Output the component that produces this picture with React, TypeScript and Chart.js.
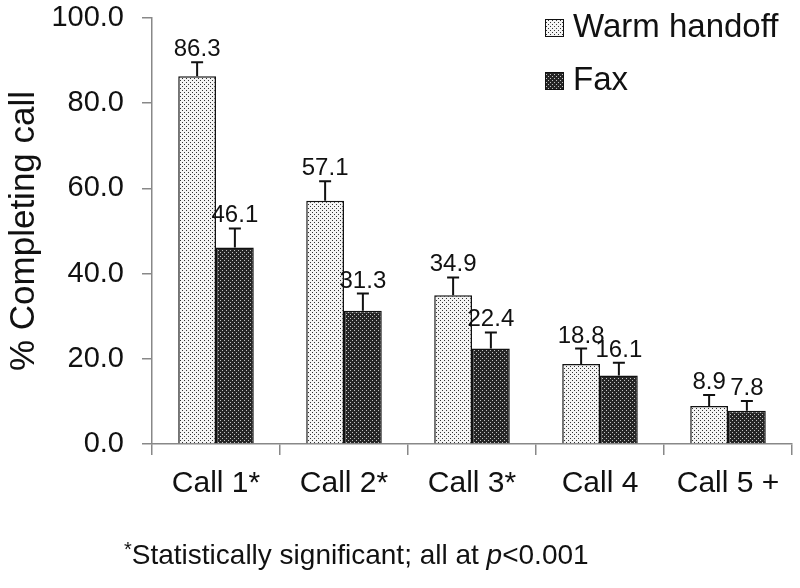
import React, { useEffect, useRef } from "react";
import { Chart, registerables } from "chart.js";

Chart.register(...registerables);

const categories = ["Call 1*", "Call 2*", "Call 3*", "Call 4", "Call 5 +"];
const warmValues = [86.3, 57.1, 34.9, 18.8, 8.9];
const faxValues = [46.1, 31.3, 22.4, 16.1, 7.8];
const warmErrors = [3.3, 4.6, 4.2, 3.6, 2.6];
const faxErrors = [4.5, 4.0, 3.8, 3.0, 2.3];
const seriesLabels = ["Warm handoff", "Fax"];
const yTicks = [0, 20, 40, 60, 80, 100];

const FONT = "'Liberation Sans', Arial, sans-serif";

function makePattern(ctx: CanvasRenderingContext2D, bg: string, dot: string) {
  const c = document.createElement("canvas");
  c.width = 4;
  c.height = 4;
  const p = c.getContext("2d")!;
  p.fillStyle = bg;
  p.fillRect(0, 0, 4, 4);
  p.fillStyle = dot;
  p.fillRect(0, 0, 1, 1);
  p.fillRect(2, 2, 1, 1);
  return ctx.createPattern(c, "repeat")!;
}

export default function App() {
  const ref = useRef<HTMLCanvasElement | null>(null);

  useEffect(() => {
    const canvas = ref.current!;
    const ctx = canvas.getContext("2d")!;
    const warmPat = makePattern(ctx, "#f4f4f4", "#333333");
    const faxPat = makePattern(ctx, "#262626", "#c4c4c4");
    const patterns = [warmPat, faxPat];
    const errors = [warmErrors, faxErrors];

    const overlay = {
      id: "overlay",
      afterDatasetsDraw(chart: any) {
        const c = chart.ctx;
        const y = chart.scales.y;
        c.save();
        chart.data.datasets.forEach((ds: any, di: number) => {
          const meta = chart.getDatasetMeta(di);
          meta.data.forEach((bar: any, i: number) => {
            const v = ds.data[i];
            const top = y.getPixelForValue(v + errors[di][i]);
            const base = y.getPixelForValue(v);
            c.strokeStyle = "#111";
            c.lineWidth = 2;
            c.beginPath();
            c.moveTo(bar.x, base);
            c.lineTo(bar.x, top);
            c.moveTo(bar.x - 6, top);
            c.lineTo(bar.x + 6, top);
            c.stroke();
            c.fillStyle = "#111";
            c.font = `24px ${FONT}`;
            c.textAlign = "center";
            c.textBaseline = "alphabetic";
            c.fillText(v.toFixed(1), bar.x, top - 6);
          });
        });
        // legend
        const items = [
          { y: 19, ty: 28 },
          { y: 72, ty: 81 },
        ];
        items.forEach((it, i) => {
          c.fillStyle = patterns[i];
          c.fillRect(545, it.y, 19, 18);
          c.strokeStyle = "#111";
          c.lineWidth = 1;
          c.strokeRect(545.5, it.y + 0.5, 18, 17);
          c.fillStyle = "#111";
          c.font = `33px ${FONT}`;
          c.textAlign = "left";
          c.textBaseline = "middle";
          c.fillText(seriesLabels[i], 573, it.ty);
        });
        c.restore();
      },
    };

    const chart = new Chart(canvas, {
      type: "bar",
      data: {
        labels: categories,
        datasets: [
          {
            label: seriesLabels[0],
            data: warmValues,
            backgroundColor: warmPat as any,
            borderColor: "#111",
            borderWidth: 1.5,
            categoryPercentage: 0.59,
            barPercentage: 1,
          },
          {
            label: seriesLabels[1],
            data: faxValues,
            backgroundColor: faxPat as any,
            borderColor: "#111",
            borderWidth: 1.5,
            categoryPercentage: 0.59,
            barPercentage: 1,
          },
        ],
      },
      options: {
        responsive: false,
        animation: false,
        devicePixelRatio: 1,
        layout: { padding: { left: 0, top: 18, right: 8, bottom: 84 } },
        plugins: {
          legend: { display: false },
          tooltip: { enabled: false },
        },
        scales: {
          x: {
            grid: {
              offset: true,
              drawOnChartArea: false,
              drawTicks: true,
              tickLength: 11,
              color: "#888",
              lineWidth: 1.5,
            },
            border: { color: "#888", width: 1.5 },
            ticks: {
              color: "#111",
              font: { family: FONT, size: 30 },
              padding: 11,
              maxRotation: 0,
            },
            afterFit: (s: any) => {
              s.height = 60;
            },
          },
          y: {
            min: 0,
            max: 100,
            afterBuildTicks: (s: any) => {
              s.ticks = yTicks.map((v) => ({ value: v }));
            },
            grid: {
              drawOnChartArea: false,
              drawTicks: true,
              tickLength: 10,
              color: "#888",
              lineWidth: 1.5,
            },
            border: { color: "#888", width: 1.5 },
            ticks: {
              color: "#111",
              font: { family: FONT, size: 29 },
              padding: 18,
              callback: (v: any) => Number(v).toFixed(1),
            },
            title: {
              display: true,
              text: "% Completing call",
              color: "#111",
              font: { family: FONT, size: 35 },
              padding: { top: 3, bottom: 0 },
            },
            afterFit: (s: any) => {
              s.width = 152;
              s.paddingTop = 0;
              s.paddingBottom = 0;
            },
          },
        },
      },
      plugins: [overlay],
    });
    return () => chart.destroy();
  }, []);

  return (
    <div style={{ position: "fixed", left: 0, top: 0, width: 800, height: 588, background: "#fff" }}>
      <canvas ref={ref} width={800} height={588} style={{ display: "block" }} />
      <div
        style={{
          position: "absolute",
          left: 124,
          top: 541,
          fontFamily: FONT,
          fontSize: 28,
          lineHeight: "28px",
          color: "#111",
          whiteSpace: "nowrap",
        }}
      >
        <span style={{ fontSize: 20, position: "relative", top: -8 }}>*</span>
        Statistically significant; all at <i>p</i>&lt;0.001
      </div>
    </div>
  );
}
